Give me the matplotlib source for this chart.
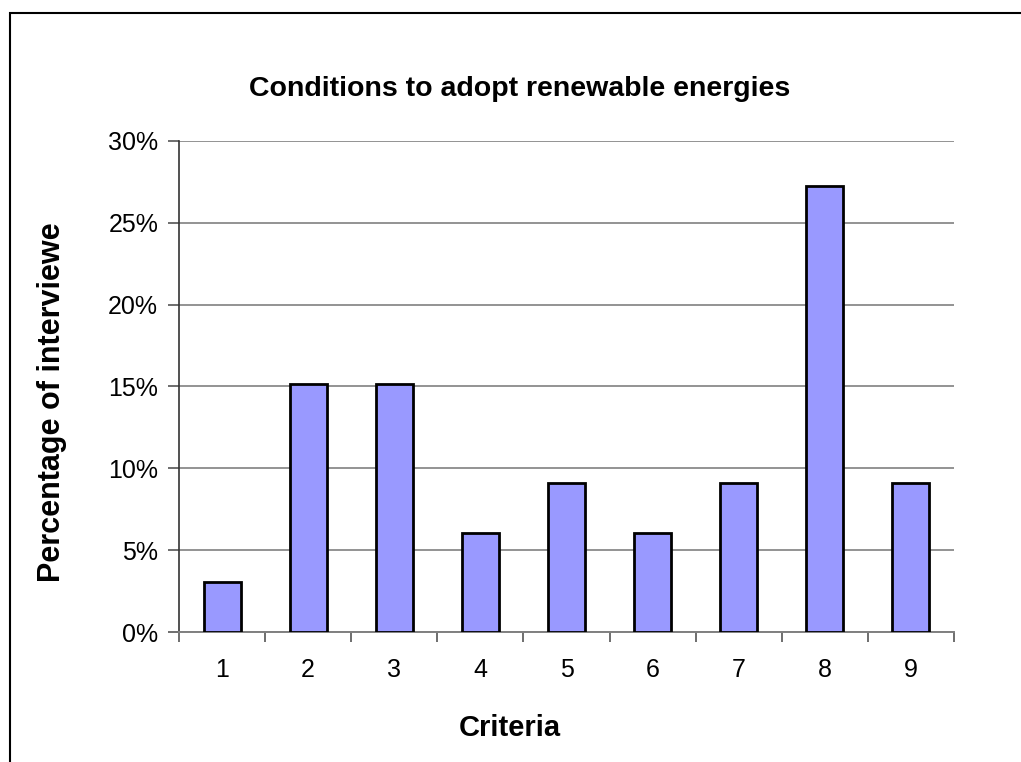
import matplotlib.pyplot as plt
from matplotlib.patches import Rectangle
from matplotlib.ticker import FuncFormatter, FixedLocator
import numpy as np

# survey responses per criterion (share of 33 interviewees)
criteria = ['1', '2', '3', '4', '5', '6', '7', '8', '9']
shares = [0.0303, 0.1515, 0.1515, 0.0606, 0.0909, 0.0606, 0.0909, 0.2727, 0.0909]

plt.rcParams['font.family'] = ['Liberation Sans', 'DejaVu Sans']

fig = plt.figure(figsize=(10.21, 7.62), dpi=100)
ax = fig.add_axes([0.1753, 0.1706, 0.7591, 0.6444])

x = np.arange(len(criteria))
ax.bar(x, shares, width=0.43, color='#9999FF', edgecolor='black', linewidth=2, zorder=3)

ax.set_xlim(-0.5, len(criteria) - 0.5)
ax.set_ylim(0, 0.30)
ax.set_yticks(np.arange(0, 0.31, 0.05))
ax.yaxis.set_major_formatter(FuncFormatter(lambda v, p: f'{v * 100:.0f}%'))
ax.grid(axis='y', color='#808080', linewidth=1.2, zorder=0)

# category labels centred, ticks on the category boundaries
ax.set_xticks(x)
ax.set_xticklabels(criteria)
ax.xaxis.set_minor_locator(FixedLocator(np.arange(-0.5, len(criteria), 1.0)))
ax.tick_params(axis='x', which='major', length=0, pad=19, labelsize=18)
ax.tick_params(axis='x', which='minor', length=7, width=1.2, color='#555555', direction='out')
ax.tick_params(axis='y', length=8, width=1.2, color='#555555', pad=7, labelsize=18)

for side in ['top', 'right']:
    ax.spines[side].set_visible(False)
ax.spines['left'].set_color('#333333')
ax.spines['left'].set_linewidth(1.2)
ax.spines['bottom'].set_color('#808080')
ax.spines['bottom'].set_linewidth(1.4)

# titles are centred on the chart area, not the plot area
fig.text(520 / 1021, 1 - 89 / 762, 'Conditions to adopt renewable energies',
         fontsize=20.5, fontweight='bold', ha='center', va='center')
fig.text(510 / 1021, 1 - 728 / 762, 'Criteria',
         fontsize=21, fontweight='bold', ha='center', va='center')
fig.text(52 / 1021, 1 - 402 / 762, 'Percentage of interviewe',
         fontsize=22, fontweight='bold', ha='center', va='center', rotation=90)

# chart frame
fig.patches.append(Rectangle((10 / 1021, -0.2), 1.2, 1 - 13 / 762 + 0.2, transform=fig.transFigure,
                             fill=False, edgecolor='black', linewidth=1.5, clip_on=False))

fig.savefig('out.png', dpi=100)
